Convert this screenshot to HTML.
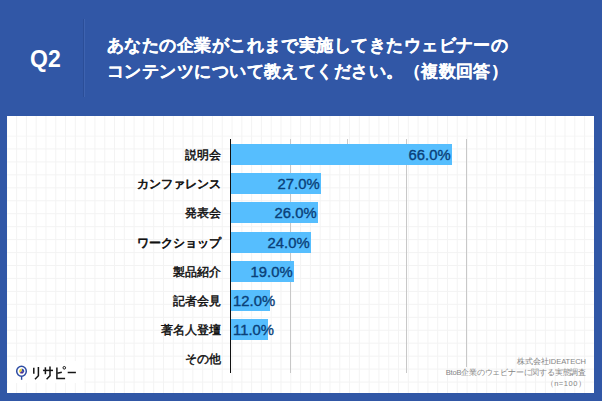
<!DOCTYPE html>
<html><head><meta charset="utf-8">
<style>
*{margin:0;padding:0;box-sizing:border-box}
html,body{width:602px;height:401px;overflow:hidden}
body{background:#3157a6;font-family:"Liberation Sans",sans-serif;position:relative}
.q{position:absolute;left:30px;top:44.5px;font-size:23px;font-weight:bold;color:#fff;line-height:28px}
.div1{position:absolute;left:83px;top:19px;width:1px;height:78px;background:#2b4e98}
.div2{position:absolute;left:84px;top:19px;width:1px;height:78px;background:#3e63b0}
.title{position:absolute;left:107px;top:33.4px;font-size:17.3px;font-weight:bold;color:#fff;line-height:25.3px;white-space:nowrap;letter-spacing:0.45px;-webkit-text-stroke:0.15px #fff}
.panel{position:absolute;left:7px;top:116px;width:587px;height:277px;background:#fff;overflow:hidden}
.grid{position:absolute;left:0;top:0;width:100%;height:100%}
.axis{position:absolute;left:230px;top:139px;width:1px;height:234px;background:#111}
.gl{position:absolute;top:139px;width:1px;height:234px;background:#c8c8c8}
.bar{position:absolute;left:231px;height:21px;background:#56befe}
.pct{position:absolute;font-size:14px;font-weight:normal;color:#0a4078;line-height:16px;white-space:nowrap;-webkit-text-stroke:0.35px #0a4078;transform:scaleX(1.06);transform-origin:100% 50%}
.pl{transform-origin:0 50%}
.lab{position:absolute;right:381px;font-size:12px;font-weight:normal;color:#111;line-height:16px;-webkit-text-stroke:0.45px #111;margin-top:1px;white-space:nowrap;text-align:right}
.foot{position:absolute;right:16px;margin-top:1px;font-size:7.5px;color:#858585;line-height:10px;white-space:nowrap;text-align:right}
.logo{position:absolute;left:31px;top:364px;font-size:14px;color:#222;line-height:18px}
</style></head><body>
<div class="q">Q2</div>
<div class="div1"></div><div class="div2"></div>
<div class="title">あなたの企業がこれまで実施してきたウェビナーの<br>コンテンツについて教えてください。（複数回答）</div>
<div class="panel">
<svg class="grid" width="587" height="277">
<defs><pattern id="gv" x="9.1" y="0" width="9.793" height="277" patternUnits="userSpaceOnUse">
<path d="M0.5 0V277" stroke="#f3f3f3" stroke-width="1" fill="none"/></pattern>
<pattern id="gh" x="0" y="19.5" width="587" height="12.95" patternUnits="userSpaceOnUse">
<path d="M0 0.5H587" stroke="#f3f3f3" stroke-width="1" fill="none"/></pattern></defs>
<rect width="587" height="277" fill="url(#gv)"/>
<rect y="19.5" width="587" height="257.5" fill="url(#gh)"/>
</svg>
</div>
<div class="gl" style="left:290px"></div>
<div class="gl" style="left:347px;height:5px"></div>
<div class="gl" style="left:406px"></div>
<div class="gl" style="left:466px;height:228px"></div>
<div class="axis"></div>

<div class="bar" style="top:144px;width:221px"></div>
<div class="bar" style="top:173.2px;width:90px"></div>
<div class="bar" style="top:202.4px;width:87px"></div>
<div class="bar" style="top:231.6px;width:80px"></div>
<div class="bar" style="top:260.8px;width:63px"></div>
<div class="bar" style="top:290px;width:39px"></div>
<div class="bar" style="top:319.2px;width:36.5px"></div>

<div class="pct" style="top:147.0px;right:151px">66.0%</div>
<div class="pct" style="top:176.2px;right:282.5px">27.0%</div>
<div class="pct" style="top:205.4px;right:285.5px">26.0%</div>
<div class="pct" style="top:234.6px;right:292.5px">24.0%</div>
<div class="pct" style="top:263.8px;right:309px">19.0%</div>
<div class="pct pl" style="top:293.0px;left:233px">12.0%</div>
<div class="pct pl" style="top:322.2px;left:233px">11.0%</div>

<div class="lab" style="top:146px">説明会</div>
<div class="lab" style="top:175.2px;-webkit-text-stroke:0.65px #111">カンファレンス</div>
<div class="lab" style="top:204.4px">発表会</div>
<div class="lab" style="top:233.6px;-webkit-text-stroke:0.65px #111">ワークショップ</div>
<div class="lab" style="top:262.8px">製品紹介</div>
<div class="lab" style="top:292px">記者会見</div>
<div class="lab" style="top:321.2px">著名人登壇</div>
<div class="lab" style="top:350.4px">その他</div>

<div class="foot" style="top:356px">株式会社IDEATECH</div>
<div class="foot" style="top:367px;letter-spacing:-0.2px">BtoB企業のウェビナーに関する実態調査</div>
<div class="foot" style="top:378px;letter-spacing:0.55px;right:15.5px">（n=100）</div>

<svg style="position:absolute;left:0;top:350px" width="90" height="40" viewBox="0 350 90 40">
<rect x="8" y="361" width="76" height="22" fill="#fff"/>
<ellipse cx="21.5" cy="371.3" rx="4.8" ry="4.95" fill="#fff" stroke="#2d4ca3" stroke-width="1.5"/>
<path d="M21.6 376.2V379.8" stroke="#2d4ca3" stroke-width="1.4"/>
<path d="M21.7 371L21.7 368.4A2.6 2.6 0 0 1 23.69 372.67Z" fill="#3148ad"/>
<path d="M21.7 371L23.69 372.67A2.6 2.6 0 0 1 19.71 372.67Z" fill="#4a2b92"/>
<path d="M21.7 371L19.71 372.67A2.6 2.6 0 0 1 21.7 368.4Z" fill="#e6d233"/>
<g fill="none" stroke="#151515" stroke-width="1.5" stroke-linejoin="miter">
<path d="M33.8 367.8V373.8"/>
<path d="M38.4 366.9V375.8L35 379.2"/>
<path d="M43.1 370.4H53"/>
<path d="M45.4 367.3V374.2"/>
<path d="M50 366.5V375.8L46.6 379.2"/>
<path d="M56.9 367.6V378.6H65.1"/>
<path d="M57.3 373.2L61.8 372.2"/>
<path d="M67.7 372.5H75.9"/>
</g>
<circle cx="64.3" cy="367.8" r="1.3" fill="none" stroke="#151515" stroke-width="1"/>
</svg>
</body></html>
